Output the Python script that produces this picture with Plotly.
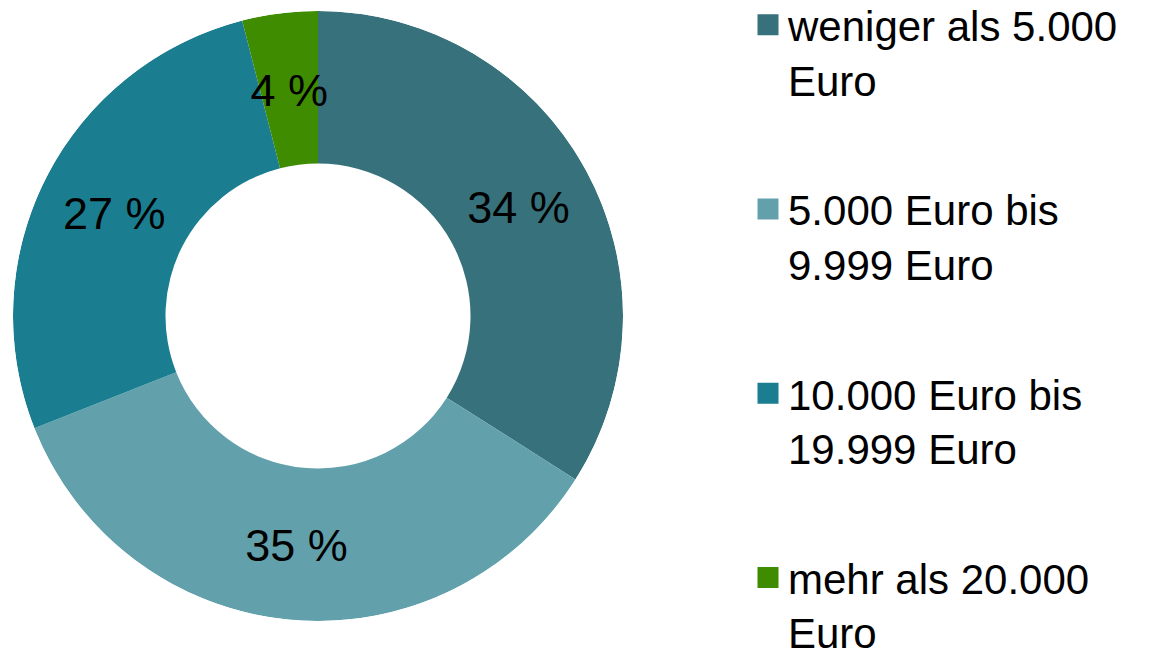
import plotly.graph_objects as go

categories = [
    "weniger als 5.000<br>Euro",
    "5.000 Euro bis<br>9.999 Euro",
    "10.000 Euro bis<br>19.999 Euro",
    "mehr als 20.000<br>Euro",
]
values = [34, 35, 27, 4]
colors = ["#37727C", "#62A1AB", "#1B7E90", "#408C00"]

FONT = "Liberation Sans, Arial, sans-serif"
W, H = 1173, 655
HOLE = 0.5
dom = dict(x=[13 / W, 623 / W], y=[1 - 621 / H, 1 - 11 / H])
LABEL_DY = 6 / H  # labels sit slightly lower than the geometric segment middle
dom_lbl = dict(x=dom["x"], y=[dom["y"][0] - LABEL_DY, dom["y"][1] - LABEL_DY])

# slice geometry from the data (clockwise from 12 o'clock)
total = sum(values)
widths = [v / total * 360 for v in values]
mid_theta = []
cum = 0
for v in values:
    mid_theta.append((cum + v / 2) / total * 360)
    cum += v

fig = go.Figure()

# donut ring
fig.add_trace(go.Barpolar(
    r=[1 - HOLE] * len(values),
    base=[HOLE] * len(values),
    theta=mid_theta,
    width=widths,
    marker=dict(color=colors, line=dict(width=0)),
    showlegend=False,
    hovertext=categories,
    hoverinfo="text",
))

# percentage labels in the middle of each segment
fig.add_trace(go.Scatterpolar(
    r=[(1 + HOLE) / 2] * len(values),
    theta=mid_theta,
    mode="text",
    text=[f"{v} %" for v in values],
    textfont=dict(family=FONT, size=45, color="black"),
    textposition="middle center",
    showlegend=False,
    hoverinfo="skip",
    subplot="polar2",
))

# legend entries (one per category, same colours as the slices)
for i, (cat, col) in enumerate(zip(categories, colors)):
    fig.add_trace(go.Scatter(
        x=[None], y=[None], mode="markers", name=cat,
        legendgroup=f"g{i}",
        marker=dict(symbol="square", size=16, color=col, line=dict(color=col, width=5)),
    ))

polar_common = dict(
    bgcolor="rgba(0,0,0,0)",
    bargap=0,
    radialaxis=dict(visible=False, range=[0, 1]),
    angularaxis=dict(visible=False, rotation=90, direction="clockwise"),
)

fig.update_layout(
    width=W, height=H,
    margin=dict(l=0, r=0, t=0, b=0, autoexpand=False),
    paper_bgcolor="white", plot_bgcolor="white",
    xaxis=dict(visible=False), yaxis=dict(visible=False),
    polar=dict(domain=dom, **polar_common),
    polar2=dict(domain=dom_lbl, **polar_common),
    legend=dict(
        x=748 / W, xanchor="left", y=1 + 9 / H, yanchor="top",
        font=dict(family=FONT, size=42, color="black"),
        valign="top", traceorder="grouped", tracegroupgap=72,
        bgcolor="rgba(0,0,0,0)",
        maxheight=900,
    ),
    showlegend=True,
)

fig.write_html("out.html", config={"displayModeBar": False},
               post_script="document.body.style.margin='0px';")
